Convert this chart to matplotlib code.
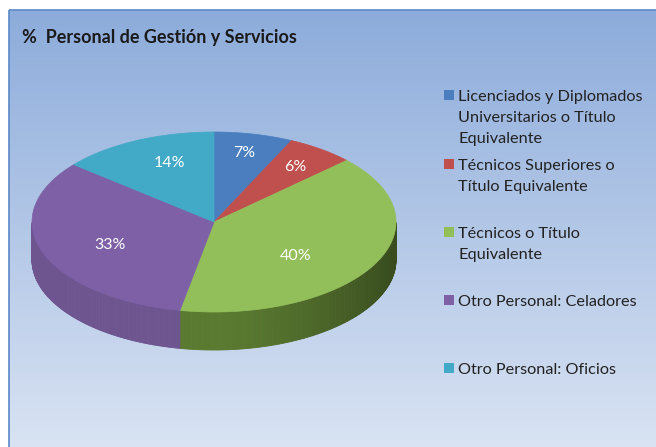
import numpy as np
import matplotlib.pyplot as plt
from matplotlib.patches import Polygon, Rectangle
from matplotlib.colors import to_rgb

# datos
categorias = ['Licenciados y Diplomados\nUniversitarios o Título\nEquivalente',
              'Técnicos Superiores o\nTítulo Equivalente',
              'Técnicos o Título\nEquivalente',
              'Otro Personal: Celadores',
              'Otro Personal: Oficios']
valores = [7, 6, 40, 33, 14]
colores = ['#4a7ebf', '#c0504d', '#93bf5a', '#7d60a6', '#42aac6']
colores_lado = ['#3a66a0', '#9c3c3a', '#5a7a30', '#6e5590', '#33879e']
titulo = '%  Personal de Gestión y Servicios'

# geometría del pastel (pixeles)
cx, cy = 214, 222
ra, rb = 182, 90
alto = 38
legend_y = [95, 164, 232, 300, 368]
label_nudge = [(2, -8), (6, -4), (-30, 4), (16, 2), (10, -2)]

fig = plt.figure(figsize=(6.56, 4.47), dpi=100)
ax = fig.add_axes([0, 0, 1, 1])
ax.set_xlim(0, 656)
ax.set_ylim(447, 0)
ax.axis('off')

# fondo degradado
top = np.array(to_rgb('#8dacdb'))
bot = np.array(to_rgb('#d9e3f3'))
t = np.linspace(0, 1, 256)[:, None]
grad = (top * (1 - t) + bot * t)[:, None, :]
ax.imshow(grad, extent=(9, 660, 450, 10), aspect='auto', zorder=0)
ax.add_patch(Rectangle((8.5, 9.5), 700, 500, fill=False, ec='#5b87c8', lw=1.2, zorder=1))


def punto(th, dy=0.0):
    return cx + ra * np.cos(th), cy - rb * np.sin(th) + dy


total = sum(valores)
frac = np.array(valores) / total
inicio = np.pi / 2 - 2 * np.pi * np.concatenate([[0], np.cumsum(frac)[:-1]])
fin = inicio - 2 * np.pi * frac

# lados (solo la mitad frontal)
for i in range(len(valores)):
    angs = np.linspace(inicio[i], fin[i], 200)
    angs = np.mod(angs + np.pi, 2 * np.pi) - np.pi
    base = np.array(to_rgb(colores_lado[i]))
    for j in range(len(angs) - 1):
        t1, t2 = angs[j], angs[j + 1]
        if t1 > 0 or t2 > 0 or abs(t1 - t2) > 1:
            continue
        # sombreado: más oscuro hacia la derecha
        s = 1.0 - 0.38 * max(0.0, np.cos((t1 + t2) / 2)) ** 1.5
        c = np.clip(base * s, 0, 1)
        x1, y1 = punto(t1)
        x2, y2 = punto(t2)
        quad = [(x1, y1), (x2, y2), (x2, y2 + alto), (x1, y1 + alto)]
        ax.add_patch(Polygon(quad, closed=True, fc=c, ec=c, lw=0.6, zorder=2))

# caras superiores
for i in range(len(valores)):
    angs = np.linspace(inicio[i], fin[i], 100)
    pts = [(cx, cy)] + [punto(a) for a in angs]
    ax.add_patch(Polygon(pts, closed=True, fc=colores[i], ec=colores[i], lw=0.5, zorder=3))

# etiquetas de porcentaje
for i, v in enumerate(valores):
    mid = (inicio[i] + fin[i]) / 2
    x = cx + 0.7 * ra * np.cos(mid) + label_nudge[i][0]
    y = cy - 0.7 * rb * np.sin(mid) + label_nudge[i][1]
    ax.text(x, y, f'{v}%', color='white', fontsize=11.5, family='Lato',
            ha='center', va='center', zorder=4)

# título
ax.text(22, 37, titulo, fontsize=13, fontweight='bold', family='Lato',
        color='#1a1a1a', ha='left', va='center', zorder=4)

# leyenda
for i, cat in enumerate(categorias):
    ax.add_patch(Rectangle((444, legend_y[i] - 5), 10, 10, fc=colores[i], ec='none', zorder=4))
    ax.text(458, legend_y[i] - 5, cat, fontsize=11.7, family='Lato', color='#222222',
            ha='left', va='top', linespacing=1.62, zorder=4)

fig.savefig('out.png', dpi=100)
